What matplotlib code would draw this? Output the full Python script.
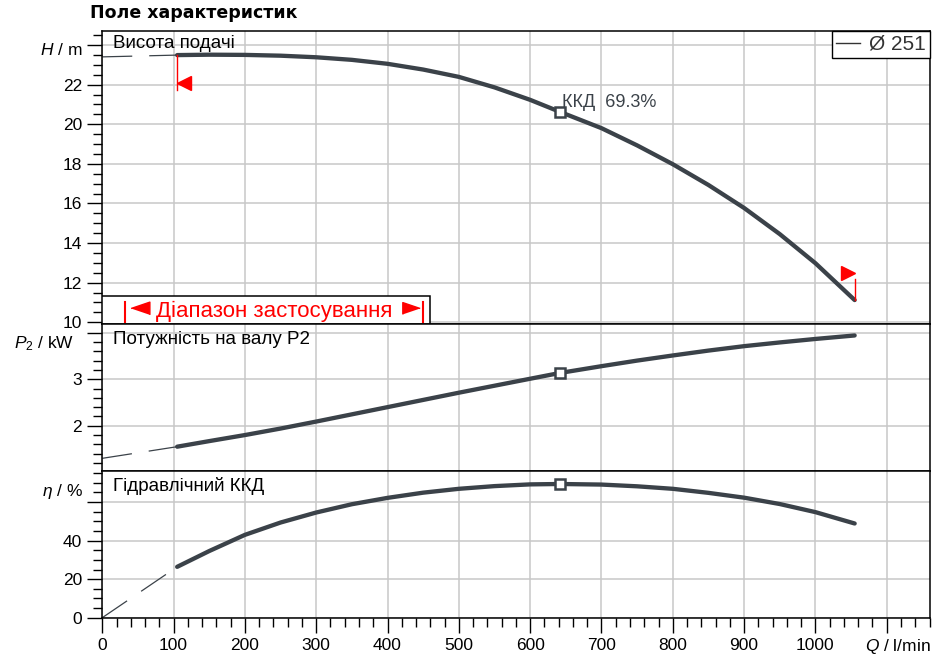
import matplotlib
matplotlib.use("Agg")
import matplotlib.pyplot as plt
from matplotlib.lines import Line2D
from matplotlib.patches import Rectangle
from matplotlib.transforms import ScaledTranslation

plt.rcParams['font.family'] = ['Liberation Sans', 'DejaVu Sans']
plt.rcParams['mathtext.fontset'] = 'custom'
plt.rcParams['mathtext.rm'] = 'Liberation Sans'
plt.rcParams['mathtext.it'] = 'Liberation Sans:italic'

# values, Q in l/min
q_min = 105
q_max = 1055
q_bep = 642

q_head = [105, 150, 200, 250, 300, 350, 400, 450, 500, 550, 600, 642, 700, 750, 800, 850, 900, 950, 1000, 1055]
head = [23.49, 23.51, 23.50, 23.46, 23.38, 23.25, 23.05, 22.76, 22.39, 21.86, 21.23, 20.62, 19.80,
        18.93, 17.98, 16.93, 15.77, 14.45, 12.98, 11.12]
head_ext = [23.40, 23.49]          # dashed part, Q = 0 .. q_min

q_power = [105, 150, 200, 250, 300, 350, 400, 450, 500, 550, 600, 642, 700, 750, 800, 850, 900, 950, 1000, 1055]
power = [1.55, 1.67, 1.80, 1.94, 2.09, 2.245, 2.40, 2.555, 2.71, 2.86, 3.01, 3.135, 3.28,
         3.40, 3.51, 3.615, 3.71, 3.79, 3.865, 3.94]
power_ext = [1.30, 1.55]

q_eff = [105, 150, 200, 250, 300, 350, 400, 450, 500, 550, 600, 642, 700, 750, 800, 850, 900, 950, 1000, 1055]
eff = [26.4, 34.6, 43.0, 49.4, 54.6, 58.9, 62.2, 64.9, 66.9, 68.3, 69.2, 69.4, 69.1,
       68.2, 66.9, 64.8, 62.3, 59.0, 54.8, 48.9]
eff_ext = [0.0, 26.4]

bep_head = 20.62
bep_power = 3.135
bep_eff = 69.4

x_ticks = list(range(0, 1101, 100))
x_labels = [str(v) for v in range(0, 1001, 100)] + ['']

CURVE = '#3b4249'
GRID = '#c8c8c8'

fig = plt.figure(figsize=(9.45, 6.61), dpi=100)
left, width = 0.1082, 0.8762
ax_h = fig.add_axes([left, 0.5101, width, 0.4434])
ax_p = fig.add_axes([left, 0.2876, width, 0.2225], sharex=ax_h)
ax_e = fig.add_axes([left, 0.0655, width, 0.2221], sharex=ax_h)


def style(ax, ymaj, ylabels, yminor):
    ax.set_yticks(ymaj, labels=ylabels)
    ax.set_yticks(yminor, minor=True)
    ax.tick_params(axis='y', which='major', length=10.5, width=1.0, labelsize=12.5, pad=4)
    ax.tick_params(axis='y', which='minor', length=6.5, width=1.0)
    ax.grid(True, which='major', color=GRID, linewidth=1.1)
    ax.set_axisbelow(True)
    for s in ax.spines.values():
        s.set_linewidth(1.1)
        s.set_color('black')


def draw(ax, q, y, y_ext, bep_y):
    ax.plot([0, q_min], y_ext, color=CURVE, lw=0.9, ls=(0, (24, 13.6)))
    ax.plot(q, y, color=CURVE, lw=3.1, solid_capstyle='round', solid_joinstyle='round')
    ax.plot(q_bep, bep_y, marker='s', ms=6.6, mfc='white', mec=CURVE, mew=1.8)


style(ax_h, list(range(10, 25, 2)), ['10', '12', '14', '16', '18', '20', '22', ''],
      [10 + 0.5 * i for i in range(30)])
style(ax_p, [2, 3, 4], ['2', '3', ''], [1.2 + 0.2 * i for i in range(15)])
style(ax_e, [0, 20, 40, 60], ['0', '20', '40', ''], list(range(0, 80, 5)))

ax_h.set_xlim(0, 1161)
ax_h.set_ylim(9.92, 24.72)
ax_p.set_ylim(1.03, 4.19)
ax_e.set_ylim(0, 76.2)

ax_e.set_xticks(x_ticks, labels=x_labels)
ax_e.set_xticks(range(0, 1161, 20), minor=True)
ax_e.tick_params(axis='x', which='major', length=10.5, width=1.0, labelsize=12.5, pad=4)
ax_e.tick_params(axis='x', which='minor', length=6.5, width=1.0)
for ax in (ax_h, ax_p):
    ax.tick_params(axis='x', which='both', bottom=False, labelbottom=False)

draw(ax_h, q_head, head, head_ext, bep_head)
draw(ax_p, q_power, power, power_ext, bep_power)
draw(ax_e, q_eff, eff, eff_ext, bep_eff)

# application range limits
ax_h.plot([q_min, q_min], [head[0], 21.75], color='red', lw=1.0)
ax_h.plot([q_max, q_max], [head[-1], 12.18], color='red', lw=1.0)
shift = ScaledTranslation(5 / 72, 0, fig.dpi_scale_trans)
ax_h.plot(q_min, 22.07, marker='<', ms=10, color='red', transform=ax_h.transData + shift)
ax_h.plot(q_max, 12.51, marker='>', ms=10, color='red', transform=ax_h.transData - shift)

ax_h.add_patch(Rectangle((0, 0), 0.3961, 0.0959, transform=ax_h.transAxes,
                         facecolor='white', edgecolor='black', lw=1.1, zorder=3))
for xb in (0.0274, 0.3877):
    ax_h.plot([xb, xb], [0.005, 0.0734], color='red', lw=1.5, transform=ax_h.transAxes, zorder=4)
tri_l = [(-1, 0), (1, 0.68), (1, -0.68)]
tri_r = [(1, 0), (-1, 0.68), (-1, -0.68)]
ax_h.plot(0.0455, 0.0539, marker=tri_l, ms=13.5, color='red', transform=ax_h.transAxes, zorder=4)
ax_h.plot(0.3732, 0.0539, marker=tri_r, ms=12.5, color='red', transform=ax_h.transAxes, zorder=4)
ax_h.text(0.2074, 0.0242, 'Діапазон застосування', color='red', fontsize=16,
          ha='center', va='baseline', transform=ax_h.transAxes, zorder=4)

ax_h.annotate('ККД  69.3%', (q_bep, bep_head), xytext=(1.7, 3.2), textcoords='offset points',
              ha='left', va='baseline', fontsize=13, color=CURVE)

# panel titles
ax_h.text(0.0133, 0.985, 'Висота подачі', transform=ax_h.transAxes, ha='left', va='top', fontsize=13.5)
ax_p.text(0.0133, 0.95, 'Потужність на валу P2', transform=ax_p.transAxes, ha='left', va='top', fontsize=13.5)
ax_e.text(0.0133, 0.96, 'Гідравлічний ККД', transform=ax_e.transAxes, ha='left', va='top', fontsize=13.5)

# axis names in place of the top tick labels
ax_h.text(-0.0242, 0.934, r'$H$ / m', transform=ax_h.transAxes, ha='right', va='center', fontsize=12.5)
ax_p.text(-0.0338, 0.8674, r'$P_2$ / kW', transform=ax_p.transAxes, ha='right', va='center', fontsize=12.5)
ax_e.text(-0.0233, 0.858, r'$\eta$ / %', transform=ax_e.transAxes, ha='right', va='center', fontsize=12.5)
ax_e.text(1.0, -0.1975, r'$Q$ / l/min', transform=ax_e.transAxes, ha='right', va='center', fontsize=12.5)

leg = ax_h.legend([Line2D([], [], color='#333333', lw=1.0)], ['Ø 251'], loc='upper right',
                  borderaxespad=0, fancybox=False, framealpha=1, edgecolor='black',
                  fontsize=15, handlelength=1.15, handletextpad=0.45, borderpad=0.2,
                  labelcolor='#333333')
leg.get_frame().set_linewidth(1.0)

fig.text(90 / 945, 1 - 13.5 / 661, 'Поле характеристик', family='DejaVu Sans',
         fontweight='bold', fontsize=12.5, ha='left', va='center')

fig.savefig('out.png', dpi=100)
